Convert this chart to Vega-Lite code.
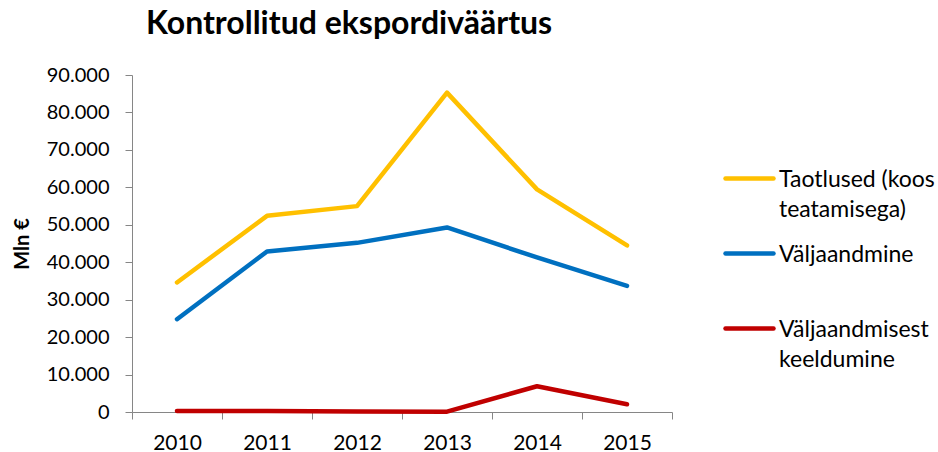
{
  "$schema": "https://vega.github.io/schema/vega-lite/v6.json",
  "width": 540,
  "height": 337,
  "autosize": "none",
  "padding": {"left": 132, "top": 75, "right": 266, "bottom": 40},
  "background": "white",
  "config": {"font": "Lato", "view": {"stroke": null}},
  "title": {
    "text": "Kontrollitud ekspordiväärtus",
    "font": "Lato",
    "fontSize": 32,
    "fontWeight": "bold",
    "color": "black",
    "anchor": "start",
    "frame": "group",
    "dx": 14,
    "baseline": "alphabetic",
    "offset": -1
  },
  "data": {
    "values": [
      {"year": "2010", "series": "Taotlused (koos teatamisega)", "value": 34590},
      {"year": "2011", "series": "Taotlused (koos teatamisega)", "value": 52390},
      {"year": "2012", "series": "Taotlused (koos teatamisega)", "value": 54980},
      {"year": "2013", "series": "Taotlused (koos teatamisega)", "value": 85300},
      {"year": "2014", "series": "Taotlused (koos teatamisega)", "value": 59450},
      {"year": "2015", "series": "Taotlused (koos teatamisega)", "value": 44480},
      {"year": "2010", "series": "Väljaandmine", "value": 24780},
      {"year": "2011", "series": "Väljaandmine", "value": 42870},
      {"year": "2012", "series": "Väljaandmine", "value": 45170},
      {"year": "2013", "series": "Väljaandmine", "value": 49290},
      {"year": "2014", "series": "Väljaandmine", "value": 41270},
      {"year": "2015", "series": "Väljaandmine", "value": 33680},
      {"year": "2010", "series": "Väljaandmisest keeldumine", "value": 300},
      {"year": "2011", "series": "Väljaandmisest keeldumine", "value": 250},
      {"year": "2012", "series": "Väljaandmisest keeldumine", "value": 150},
      {"year": "2013", "series": "Väljaandmisest keeldumine", "value": 100},
      {"year": "2014", "series": "Väljaandmisest keeldumine", "value": 6870},
      {"year": "2015", "series": "Väljaandmisest keeldumine", "value": 2060}
    ]
  },
  "mark": {"type": "line", "strokeWidth": 4.5, "strokeCap": "round", "strokeJoin": "round"},
  "encoding": {
    "x": {
      "field": "year",
      "type": "ordinal",
      "scale": {"paddingInner": 0, "paddingOuter": 0},
      "axis": {
        "title": null,
        "labelAngle": 0,
        "tickBand": "extent",
        "grid": false,
        "domainColor": "#868686",
        "tickColor": "#868686",
        "tickSize": 7,
        "labelFont": "Lato",
        "labelFontSize": 21,
        "labelColor": "black",
        "labelPadding": 13
      }
    },
    "y": {
      "field": "value",
      "type": "quantitative",
      "scale": {"domain": [0, 90000], "nice": false},
      "axis": {
        "values": [0, 10000, 20000, 30000, 40000, 50000, 60000, 70000, 80000, 90000],
        "labelExpr": "replace(format(datum.value, ','), ',', '.')",
        "title": "Mln €",
        "titleFont": "Lato",
        "titleFontSize": 20,
        "titleFontWeight": "bold",
        "titleColor": "black",
        "titlePadding": 14,
        "grid": false,
        "domainColor": "#868686",
        "tickColor": "#868686",
        "tickSize": 7,
        "labelFont": "Lato",
        "labelFontSize": 20,
        "labelColor": "black",
        "labelPadding": 16
      }
    },
    "color": {
      "field": "series",
      "type": "nominal",
      "sort": null,
      "scale": {
        "domain": ["Taotlused (koos teatamisega)", "Väljaandmine", "Väljaandmisest keeldumine"],
        "range": ["#FFC000", "#0070C0", "#C00000"]
      },
      "legend": {
        "orient": "none",
        "legendX": 591,
        "legendY": 77,
        "title": null,
        "symbolType": "stroke",
        "symbolSize": 2304,
        "symbolStrokeWidth": 4.5,
        "labelFont": "Lato",
        "labelFontSize": 23,
        "labelColor": "black",
        "labelOffset": 3,
        "labelLimit": 300,
        "labelBaseline": "alphabetic",
        "rowPadding": 5,
        "labelExpr": "datum.label === 'Taotlused (koos teatamisega)' ? ['Taotlused (koos', 'teatamisega)'] : datum.label === 'Väljaandmisest keeldumine' ? ['Väljaandmisest', 'keeldumine'] : [datum.label, '']",
        "encode": {
          "labels": {"update": {"lineHeight": {"value": 30}, "dy": {"value": 8}}},
          "symbols": {"update": {"strokeCap": {"value": "round"}}}
        }
      }
    }
  }
}
